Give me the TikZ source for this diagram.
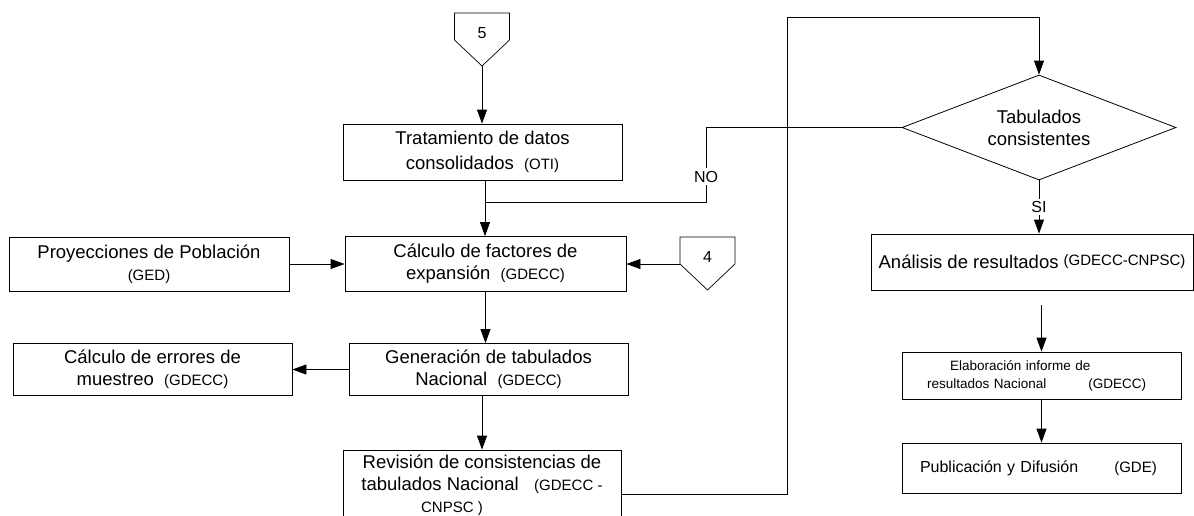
\documentclass[tikz,border=0pt]{standalone}
\usepackage{fontspec}
\setmainfont{Liberation Sans}
\usetikzlibrary{arrows.meta}
\usetikzlibrary{shapes.geometric}
\newcommand{\grande}{\fontsize{18.5}{22}\selectfont}
\newcommand{\chico}{\fontsize{15}{18}\selectfont}
\newcommand{\conector}[4]{
\node[font=\fontsize{16}{18}\selectfont] (#1) at (#2,#3+20) {#4};
\draw[line width=.7pt] (#2-27.5,#3) -- (#2+27.5,#3) -- (#2+27.5,#3+27) -- (#2,#3+53) -- (#2-27.5,#3+27) -- cycle;
\coordinate (#1-punta) at (#2,#3+53);
\coordinate (#1-lado) at (#2-27.5,#3+27);
}

\begin{document}
\begin{tikzpicture}[x=1pt,y=-1pt,
caja/.style={draw, line width=.8pt, font=\grande, align=center, inner sep=0pt},
flecha/.style={-{Triangle[length=14pt,width=10pt]}, line width=.8pt}]
\useasboundingbox (0,0) rectangle (1194,515);
\clip (0,0) rectangle (1194,515);

\conector{c5}{482}{13}{5}
\conector{c4}{707.5}{237}{4}

\node[caja, minimum width=279pt, minimum height=56pt] (tratamiento) at (482.5,152) {Tratamiento de datos\\[3pt]consolidados \ {\chico(OTI)}};
\node[caja, minimum width=281pt, minimum height=55pt] (calculo) at (485.5,264) {Cálculo de factores de\\expansión \ {\chico(GDECC)}};
\node[caja, minimum width=280pt, minimum height=54pt] (proyecciones) at (149,264) {Proyecciones de Población\\{\chico(GED)}};
\node[caja, minimum width=279pt, minimum height=52pt] (errores) at (152.5,369.5) {Cálculo de errores de\\muestreo \ {\chico(GDECC)}};
\node[caja, minimum width=279pt, minimum height=52pt] (generacion) at (488.5,369.5) {Generación de tabulados\\Nacional \ {\chico(GDECC)}};
\node[caja, minimum width=278pt, minimum height=70pt] (revision) at (482,485) {Revisión de consistencias de\\tabulados Nacional \ \ {\chico(GDECC -}\\{\chico CNPSC )}\hspace*{60pt}};

\node[draw, diamond, aspect=2.6, inner sep=0pt, minimum width=274pt, minimum height=105pt, font=\grande, align=center, line width=.8pt] (tabulados) at (1039,127.5) {Tabulados\\consistentes};
\node[caja, minimum width=322pt, minimum height=56pt] (analisis) at (1032,262) {Análisis de resultados \raisebox{3pt}{\chico(GDECC-CNPSC)}};
\node[caja, minimum width=279pt, minimum height=47pt, text width=229pt, align=left, font=\fontsize{13.5}{18}\selectfont] (elaboracion) at (1041.5,375.5) {\hspace*{23pt}Elaboración informe de\\resultados Nacional\hspace{42pt}(GDECC)};
\node[caja, minimum width=279pt, minimum height=50pt, text width=243pt, align=left, font=\fontsize{16}{18}\selectfont] (publicacion) at (1041.5,468) {Publicación y Difusión\hspace{36pt}{\chico(GDE)}};

\coordinate (union) at (485,202);
\coordinate (quiebre) at (706,127.5);
\coordinate (nivel) at (0,494);
\coordinate (arriba) at (787,17);
\coordinate (inicio) at (1041.5,305);

\draw[flecha] (c5-punta) -- (c5-punta |- tratamiento.north);
\draw[flecha] (tratamiento.south -| union) -- (calculo.north -| union);
\draw[line width=.8pt] (tabulados.west) -- (quiebre) |- node[pos=.33, fill=white, font=\fontsize{16}{18}\selectfont, inner sep=3pt]{NO} (union);
\draw[flecha] (proyecciones) -- (calculo);
\draw[flecha] (c4-lado) -- (c4-lado -| calculo.east);
\draw[flecha] (calculo.south) -- (calculo.south |- generacion.north);
\draw[flecha] (generacion.west) -- (generacion.west -| errores.east);
\draw[flecha] (generacion.south -| revision.north) -- (revision.north);
\draw[flecha] (revision.east |- nivel) -| (arriba) -| (tabulados.north);
\draw[flecha] (tabulados.south) -- node[fill=white, font=\fontsize{16}{18}\selectfont, inner sep=2pt]{SI} (tabulados.south |- analisis.north);
\draw[flecha] (inicio) -- (elaboracion.north);
\draw[flecha] (elaboracion) -- (publicacion);
%\node at (1041.5,305){};
\end{tikzpicture}
\end{document}
